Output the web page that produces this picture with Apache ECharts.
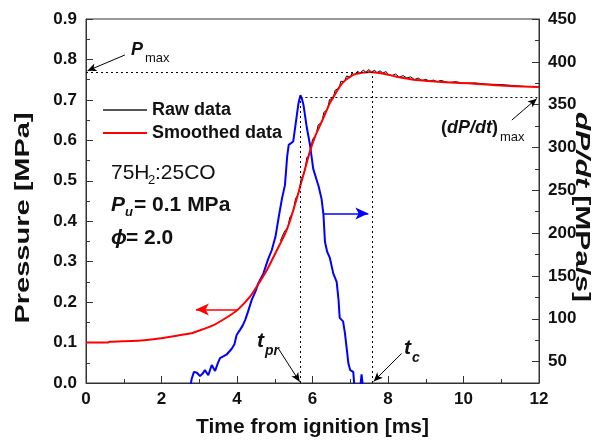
<!DOCTYPE html>
<html>
<head>
<meta charset="utf-8">
<script src="https://cdn.jsdelivr.net/npm/echarts@6/dist/echarts.min.js"></script>
<style>
html,body{margin:0;padding:0;background:#fff;}
#chart{width:601px;height:445px;}
</style>
</head>
<body>
<div id="chart"></div>
<script>
// ---- data (time in ms) ----
const timeTicks = [0, 2, 4, 6, 8, 10, 12];
const pressureTicks = [0.0, 0.1, 0.2, 0.3, 0.4, 0.5, 0.6, 0.7, 0.8, 0.9];
const rateTicks = [50, 100, 150, 200, 250, 300, 350, 400, 450];
const rateMinorTicks = [75, 125, 175, 225, 275, 325, 375, 425];

// smoothed pressure [MPa]
const smoothedData = [
  [0, 0.100], [0.58, 0.100], [0.62, 0.102], [0.96, 0.103], [1.45, 0.105], [1.93, 0.110],
  [2.41, 0.117], [2.80, 0.123], [2.89, 0.126], [3.38, 0.143], [3.86, 0.170], [4.03, 0.182],
  [4.34, 0.213], [4.52, 0.238], [4.79, 0.279], [5.06, 0.329], [5.27, 0.368], [5.40, 0.400],
  [5.58, 0.455], [5.67, 0.485], [5.79, 0.525], [5.93, 0.572], [6.08, 0.612], [6.20, 0.637],
  [6.32, 0.662], [6.46, 0.692], [6.61, 0.716], [6.72, 0.733], [6.85, 0.747], [6.95, 0.754],
  [7.08, 0.762], [7.24, 0.766], [7.38, 0.768], [7.53, 0.769], [7.72, 0.767], [7.97, 0.763],
  [8.20, 0.758], [8.68, 0.750], [9.17, 0.746], [9.65, 0.743], [10.13, 0.741], [10.61, 0.738],
  [11.10, 0.735], [11.58, 0.733], [12.0, 0.732]
];

// raw pressure [MPa] (noisy trace)
const rawData = [
  [5.15, 0.352], [5.20, 0.353], [5.25, 0.373], [5.30, 0.377], [5.35, 0.386], [5.40, 0.410],
  [5.45, 0.416], [5.50, 0.429], [5.55, 0.456], [5.60, 0.463], [5.65, 0.476], [5.70, 0.506],
  [5.75, 0.513], [5.80, 0.527], [5.85, 0.557], [5.90, 0.563], [5.95, 0.577], [6.00, 0.602],
  [6.05, 0.605], [6.10, 0.615], [6.15, 0.638], [6.20, 0.639], [6.25, 0.645], [6.30, 0.669],
  [6.35, 0.669], [6.40, 0.677], [6.45, 0.701], [6.50, 0.699], [6.55, 0.704], [6.60, 0.724],
  [6.65, 0.723], [6.70, 0.728], [6.75, 0.746], [6.80, 0.743], [6.85, 0.745], [6.90, 0.759],
  [6.95, 0.755], [7.00, 0.756], [7.05, 0.767], [7.10, 0.762], [7.15, 0.761], [7.20, 0.771],
  [7.25, 0.766], [7.30, 0.765], [7.35, 0.774], [7.40, 0.768], [7.45, 0.767], [7.50, 0.775],
  [7.55, 0.769], [7.60, 0.766], [7.65, 0.773], [7.70, 0.767], [7.75, 0.765], [7.80, 0.772],
  [7.85, 0.766], [7.90, 0.763], [7.95, 0.770], [8.00, 0.763], [8.10, 0.760], [8.20, 0.764],
  [8.30, 0.756], [8.40, 0.760], [8.50, 0.754], [8.60, 0.757], [8.70, 0.750], [8.80, 0.754],
  [8.90, 0.748], [9.00, 0.751], [9.10, 0.746], [9.20, 0.749], [9.30, 0.745], [9.40, 0.748],
  [9.60, 0.743], [9.80, 0.745], [10.0, 0.741], [10.3, 0.742], [10.6, 0.739], [11.0, 0.738],
  [11.5, 0.734], [12.0, 0.732]
];

// pressure rise rate dP/dt [MPa/s]
const rateData = [
  [2.76, 20], [2.80, 30], [2.86, 38], [2.94, 37], [3.02, 33], [3.09, 36], [3.15, 40],
  [3.24, 34], [3.33, 46], [3.42, 39], [3.49, 48], [3.55, 54], [3.72, 58], [3.86, 65],
  [3.93, 70], [3.99, 81], [4.08, 87], [4.15, 92], [4.22, 99], [4.29, 108], [4.39, 122],
  [4.49, 132], [4.56, 141], [4.70, 153], [4.82, 169], [4.92, 180], [5.02, 196], [5.11, 220],
  [5.19, 240], [5.27, 256], [5.33, 290], [5.37, 303], [5.49, 307], [5.58, 336], [5.63, 352],
  [5.68, 361], [5.72, 357], [5.76, 350], [5.85, 323], [5.93, 304], [6.02, 275], [6.11, 262],
  [6.16, 255], [6.24, 240], [6.29, 222], [6.33, 190], [6.39, 178], [6.46, 171], [6.55, 153],
  [6.64, 143], [6.69, 122], [6.72, 101], [6.81, 97], [6.86, 83], [6.91, 64], [6.95, 48],
  [7.00, 40], [7.08, 38], [7.12, 15], [7.26, 18], [7.30, 35], [7.35, 15]
];

// characteristic points
const tPr = 5.68;      // time of max dP/dt
const tC = 7.58;       // combustion time (Pmax)
const pMax = 0.769;    // MPa
const rateMax = 359;   // MPa/s

const FONT = 'Liberation Sans, Arial, sans-serif';
const chart = echarts.init(document.getElementById('chart'), null, {renderer: 'canvas'});

const dotted = {color: '#000', width: 1, type: [2, 3]};
const arrowLine = (c) => ({color: c, width: 1, type: 'solid'});

const option = {
  animation: false,
  backgroundColor: '#fff',
  grid: {left: 86, right: 62, top: 19, bottom: 62, show: true, borderColor: '#333', borderWidth: 1, containLabel: false},
  legend: {
    left: 98, top: 96, orient: 'vertical', itemGap: 5,
    itemWidth: 44, itemHeight: 2, icon: 'rect',
    textStyle: {fontFamily: FONT, fontWeight: 'bold', fontSize: 18, color: '#111'},
    data: [
      {name: 'Raw data', itemStyle: {color: '#555'}},
      {name: 'Smoothed data', itemStyle: {color: '#ff0000'}}
    ]
  },
  xAxis: {
    type: 'value', min: 0, max: 12, interval: 2,
    name: 'Time from ignition [ms]', nameLocation: 'middle', nameGap: 34,
    nameTextStyle: {fontFamily: FONT, fontWeight: 'bold', fontSize: 21, color: '#111'},
    axisLine: {lineStyle: {color: '#333', width: 1}},
    axisTick: {inside: true, length: 7, lineStyle: {color: '#333'}},
    minorTick: {show: true, splitNumber: 2, length: 4, lineStyle: {color: '#333'}},
    splitLine: {show: false},
    axisLabel: {fontFamily: FONT, fontWeight: 'bold', fontSize: 17, color: '#111', margin: 8,
      customValues: timeTicks}
  },
  yAxis: [
    {
      type: 'value', min: 0, max: 0.9, interval: 0.1, position: 'left',
      axisLine: {show: true, lineStyle: {color: '#333', width: 1}},
      axisTick: {show: true, inside: true, length: 7, lineStyle: {color: '#333'}},
      minorTick: {show: true, splitNumber: 2, length: 4, lineStyle: {color: '#333'}},
      splitLine: {show: false},
      axisLabel: {fontFamily: FONT, fontWeight: 'bold', fontSize: 17, color: '#111', margin: 9,
        customValues: pressureTicks, formatter: v => v.toFixed(1)}
    },
    {
      type: 'value', min: 25, max: 450, position: 'right',
      axisLine: {show: true, lineStyle: {color: '#333', width: 1}},
      axisTick: {show: true, inside: true, length: 7, customValues: rateTicks, lineStyle: {color: '#333'}},
      splitLine: {show: false},
      axisLabel: {fontFamily: FONT, fontWeight: 'bold', fontSize: 17, color: '#111', margin: 9,
        customValues: rateTicks}
    },
    {
      type: 'value', min: 25, max: 450, position: 'right',
      axisLine: {show: false},
      axisTick: {show: true, inside: true, length: 4, customValues: rateMinorTicks, lineStyle: {color: '#333'}},
      splitLine: {show: false},
      axisLabel: {show: false}
    }
  ],
  series: [
    {
      name: 'dP/dt', type: 'line', yAxisIndex: 1, data: rateData, showSymbol: false, symbol: 'none',
      clip: true, lineStyle: {color: '#0000ff', width: 2}, itemStyle: {color: '#0000ff'}, z: 2,
      markLine: {
        silent: true, symbol: 'none', label: {show: false},
        data: [
          [{coord: [tPr, rateMax], lineStyle: dotted}, {coord: [12, rateMax]}],
          [{coord: [tPr, 25], lineStyle: dotted}, {coord: [tPr, rateMax]}],
          [{coord: [6.29, 223], lineStyle: {color: '#0000ff', width: 1.5, type: 'solid'}, symbol: 'none'},
           {coord: [7.48, 223], symbol: 'arrow', symbolSize: [9, 13]}],
          [{coord: [11.28, 332], lineStyle: arrowLine('#000'), symbol: 'none'},
           {coord: [11.94, 357], symbol: 'arrow', symbolSize: [6, 9]}]
        ]
      }
    },
    {
      name: 'Raw data', type: 'line', yAxisIndex: 0, data: rawData, showSymbol: false, symbol: 'none',
      lineStyle: {color: '#000', width: 1}, itemStyle: {color: '#555'}, z: 3
    },
    {
      name: 'Smoothed data', type: 'line', yAxisIndex: 0, data: smoothedData, showSymbol: false, symbol: 'none',
      smooth: 0.2, lineStyle: {color: '#ff0000', width: 2}, itemStyle: {color: '#ff0000'}, z: 4,
      markLine: {
        silent: true, symbol: 'none', label: {show: false},
        data: [
          [{coord: [0, pMax], lineStyle: dotted}, {coord: [tC, pMax]}],
          [{coord: [tC, 0], lineStyle: dotted}, {coord: [tC, pMax]}],
          [{coord: [4.03, 0.182], lineStyle: {color: '#ff0000', width: 1.5, type: 'solid'}, symbol: 'none'},
           {coord: [2.91, 0.182], symbol: 'arrow', symbolSize: [9, 13]}],
          [{coord: [1.03, 0.811], lineStyle: arrowLine('#000'), symbol: 'none'},
           {coord: [0.04, 0.772], symbol: 'arrow', symbolSize: [6, 9]}],
          [{coord: [5.09, 0.086], lineStyle: arrowLine('#000'), symbol: 'none'},
           {coord: [5.66, 0.003], symbol: 'arrow', symbolSize: [6, 9]}],
          [{coord: [8.36, 0.073], lineStyle: arrowLine('#000'), symbol: 'none'},
           {coord: [7.62, 0.004], symbol: 'arrow', symbolSize: [6, 9]}]
        ]
      }
    }
  ],
  graphic: [
    // y-axis titles (stretched along their length as in the original)
    {type: 'text', x: 23, y: 218, rotation: Math.PI / 2, scaleX: 1.45, silent: true,
      style: {text: 'Pressure [MPa]', font: 'bold 20px ' + FONT, fill: '#111', align: 'center', verticalAlign: 'middle'}},
    {type: 'text', x: 582, y: 207, rotation: -Math.PI / 2, scaleX: 1.5, silent: true,
      style: {text: '{i|dP/dt} [MPa/s]', font: 'bold 20px ' + FONT, fill: '#111', align: 'center', verticalAlign: 'middle',
        rich: {i: {font: 'italic bold 20px ' + FONT, fill: '#111'}}}},
    // Pmax label
    {type: 'text', x: 131, y: 50, silent: true,
      style: {text: 'P', font: 'italic bold 18px ' + FONT, fill: '#111', align: 'left', verticalAlign: 'middle'}},
    {type: 'text', x: 145, y: 58, silent: true,
      style: {text: 'max', font: '13px ' + FONT, fill: '#111', align: 'left', verticalAlign: 'middle'}},
    // (dP/dt)max label
    {type: 'text', x: 441, y: 128, silent: true,
      style: {text: '({i|dP/dt})', font: 'bold 18px ' + FONT, fill: '#111', align: 'left', verticalAlign: 'middle',
        rich: {i: {font: 'italic bold 18px ' + FONT, fill: '#111'}}}},
    {type: 'text', x: 500, y: 137, silent: true,
      style: {text: 'max', font: '13px ' + FONT, fill: '#111', align: 'left', verticalAlign: 'middle'}},
    // t_pr label
    {type: 'text', x: 257, y: 341, silent: true,
      style: {text: 't', font: 'italic bold 21px ' + FONT, fill: '#111', align: 'left', verticalAlign: 'middle'}},
    {type: 'text', x: 265, y: 351, silent: true,
      style: {text: 'pr', font: 'italic bold 14px ' + FONT, fill: '#111', align: 'left', verticalAlign: 'middle'}},
    // t_c label
    {type: 'text', x: 404, y: 348, silent: true,
      style: {text: 't', font: 'italic bold 21px ' + FONT, fill: '#111', align: 'left', verticalAlign: 'middle'}},
    {type: 'text', x: 412, y: 358, silent: true,
      style: {text: 'c', font: 'italic bold 14px ' + FONT, fill: '#111', align: 'left', verticalAlign: 'middle'}},
    // condition text block
    {type: 'text', x: 111, y: 173, silent: true,
      style: {text: '75H', font: '21px ' + FONT, fill: '#111', align: 'left', verticalAlign: 'middle'}},
    {type: 'text', x: 148, y: 180, silent: true,
      style: {text: '2', font: '13px ' + FONT, fill: '#111', align: 'left', verticalAlign: 'middle'}},
    {type: 'text', x: 155, y: 173, silent: true,
      style: {text: ':25CO', font: '21px ' + FONT, fill: '#111', align: 'left', verticalAlign: 'middle'}},
    {type: 'text', x: 111, y: 205, silent: true,
      style: {text: 'P', font: 'italic bold 21px ' + FONT, fill: '#111', align: 'left', verticalAlign: 'middle'}},
    {type: 'text', x: 125, y: 212, silent: true,
      style: {text: 'u', font: 'italic bold 13px ' + FONT, fill: '#111', align: 'left', verticalAlign: 'middle'}},
    {type: 'text', x: 134, y: 205, silent: true,
      style: {text: '= 0.1 MPa', font: 'bold 21px ' + FONT, fill: '#111', align: 'left', verticalAlign: 'middle'}},
    {type: 'text', x: 111, y: 238, silent: true,
      style: {text: 'ϕ', font: 'italic bold 21px ' + FONT, fill: '#111', align: 'left', verticalAlign: 'middle'}},
    {type: 'text', x: 126, y: 238, silent: true,
      style: {text: '= 2.0', font: 'bold 21px ' + FONT, fill: '#111', align: 'left', verticalAlign: 'middle'}}
  ]
};
chart.setOption(option);
</script>
</body>
</html>
